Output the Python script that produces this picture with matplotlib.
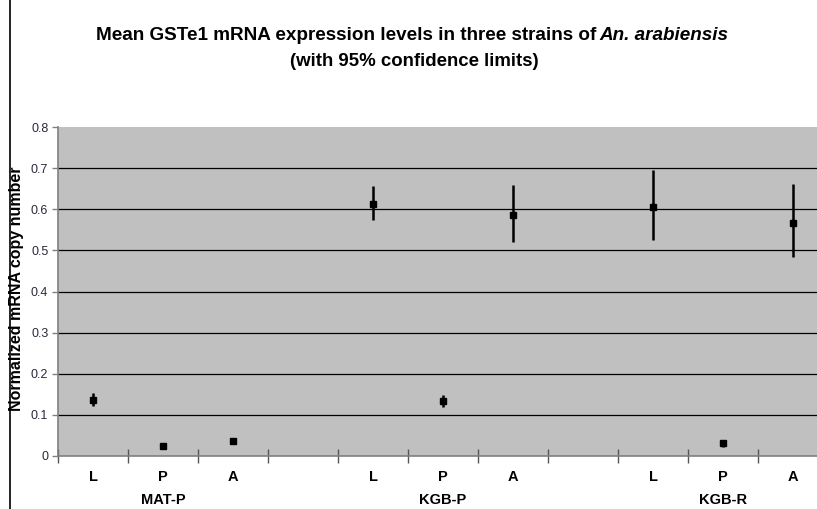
import numpy as np
import matplotlib
matplotlib.use('Agg')
import matplotlib.pyplot as plt
from matplotlib.lines import Line2D

plt.rcParams['font.family'] = ['Liberation Sans', 'DejaVu Sans']

# data
strains = ['MAT-P', 'KGB-P', 'KGB-R']
stages = ['L', 'P', 'A']
means = [0.137, 0.024, 0.036,
         0.613, 0.134, 0.586,
         0.606, 0.031, 0.567]
lower = [0.121, 0.020, 0.033,
         0.574, 0.118, 0.520,
         0.525, 0.022, 0.485]
upper = [0.152, 0.029, 0.039,
         0.657, 0.148, 0.658,
         0.695, 0.039, 0.661]
yticks = [0, 0.1, 0.2, 0.3, 0.4, 0.5, 0.6, 0.7, 0.8]

# slot layout: three stages per strain, one empty slot between strains
slots = []
for g in range(len(strains)):
    for s in range(len(stages)):
        slots.append(g * 4 + s)
xpos = np.array(slots) + 0.5
nslots = len(strains) * 4 - 1

fig = plt.figure(figsize=(8.17, 5.09), dpi=100)
W, H = 817, 509
ax = fig.add_axes([58 / W, 1 - 456 / H, 770 / W, 329 / H])
ax.set_facecolor('#c0c0c0')
ax.set_xlim(0, nslots)
ax.set_ylim(0, 0.8)

for v in yticks[1:-1]:
    ax.axhline(v, color='black', lw=0.9, zorder=1)

err = [np.array(means) - np.array(lower), np.array(upper) - np.array(means)]
ax.errorbar(xpos, means, yerr=err, fmt='s', color='black', ms=4.5,
            elinewidth=1.8, capsize=0, zorder=3)

for sp in ['top', 'right']:
    ax.spines[sp].set_visible(False)
for sp in ['left', 'bottom']:
    ax.spines[sp].set_color('#808080')
    ax.spines[sp].set_linewidth(1.2)

ax.set_yticks(yticks)
ax.set_yticklabels([('%g' % v) for v in yticks], fontsize=9, color='#2a2a3a')
ax.tick_params(axis='y', length=4, color='#808080', width=1, pad=3)
ax.set_xticks(np.arange(0, nslots + 1))
ax.set_xticklabels([])
ax.tick_params(axis='x', direction='inout', length=10, color='#555555', width=1)

tr = ax.get_xaxis_transform()
for i, x in enumerate(xpos):
    ax.text(x, -0.064, stages[i % 3], transform=tr, ha='center', va='center',
            fontsize=10.5, fontweight='bold')
for g, name in enumerate(strains):
    ax.text(g * 4 + 1.5, -0.134, name, transform=tr, ha='center', va='center',
            fontsize=10.5, fontweight='bold')

fig.text(17 / W, 1 - 289 / H, 'Normalized mRNA copy number', rotation=90,
         ha='center', va='center', fontsize=11.5, fontweight='bold')

# title with italic species name
y1 = 1 - 35 / H
t1 = fig.text(0, y1, 'Mean GSTe1 mRNA expression levels in three strains of ',
              fontsize=13.6, fontweight='bold', va='center')
t2 = fig.text(0, y1, 'An. arabiensis', fontsize=13.6, fontweight='bold',
              style='italic', va='center')
fig.canvas.draw()
r = fig.canvas.get_renderer()
w1 = t1.get_window_extent(r).width - 2
w2 = t2.get_window_extent(r).width
x0 = 412 - (w1 + w2) / 2
t1.set_x(x0 / W)
t2.set_x((x0 + w1) / W)
fig.text(414 / W, 1 - 61 / H, '(with 95% confidence limits)', fontsize=13.4,
         fontweight='bold', ha='center', va='center')

fig.add_artist(Line2D([10 / W, 10 / W], [0, 1], color='black', lw=1.2))

fig.savefig('out.png', dpi=100)
